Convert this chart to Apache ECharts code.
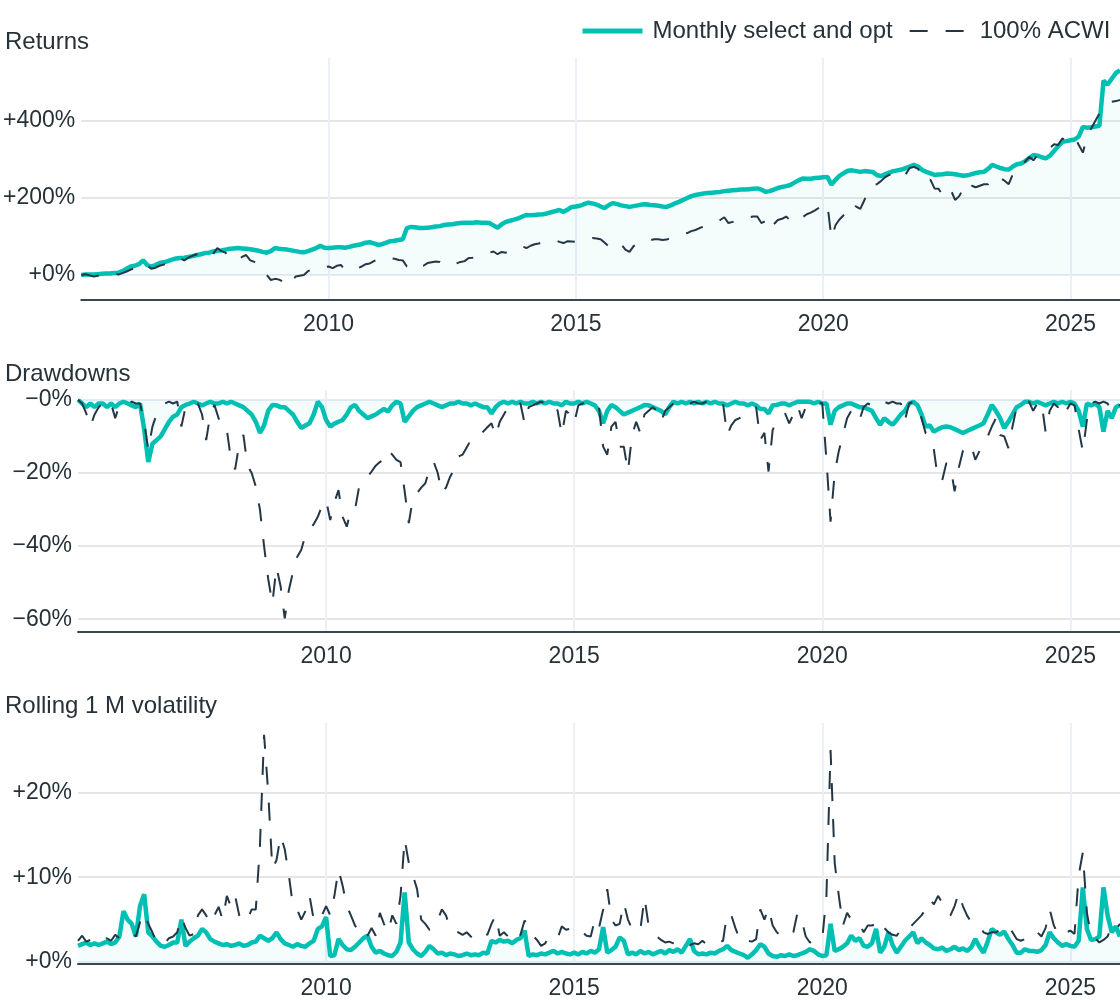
<!DOCTYPE html>
<html><head><meta charset="utf-8">
<script src="https://cdn.jsdelivr.net/npm/echarts@6/dist/echarts.min.js"></script>
<style>html,body{margin:0;padding:0;background:#fff}#c{width:1120px;height:1000px}</style>
</head><body><div id="c"></div><script>
// ---------- data (monthly, first point = Jan 2005) ----------
const startYear = 2005;
const seriesNames = ['Monthly select and opt', '100% ACWI'];
const panelTitles = ['Returns', 'Drawdowns', 'Rolling 1 M volatility'];
const yearTicks = [2010, 2015, 2020, 2025];
const returnTicks = [0, 200, 400];
const drawdownTicks = [-60, -40, -20, 0];
const volTicks = [0, 10, 20];

// cumulative returns, %
const stratReturn = [
  0, 1, 1, 1, 2, 3, 4, 4, 5, 6, 10, 16,
  22, 24, 28, 38, 26, 22, 26, 31, 33, 36, 40, 43,
  44, 45, 47, 49, 52, 54, 57, 58, 61, 63, 64, 66,
  68, 69, 70, 69, 68, 67, 65, 63, 60, 58, 62, 70,
  68, 67, 66, 64, 62, 60, 59, 62, 66, 70, 76, 71,
  70, 71, 72, 72, 71, 73, 76, 78, 80, 84, 85, 82,
  78, 80, 84, 88, 89, 91, 93, 122, 125, 124, 122, 122,
  123, 124, 126, 127, 130, 131, 132, 134, 135, 136, 136, 136,
  137, 136, 136, 135, 129, 123, 132, 138, 141, 144, 147, 152,
  156, 155, 156, 157, 158, 160, 163, 166, 169, 164, 170, 177,
  178, 180, 184, 188, 186, 183, 178, 174, 182, 187, 184, 181,
  179, 177, 179, 181, 183, 184, 182, 181, 180, 178, 177, 181,
  186, 190, 195, 200, 205, 208, 210, 212, 213, 214, 215, 216,
  218, 219, 220, 221, 222, 222, 223, 224, 225, 222, 216, 218,
  222, 226, 229, 231, 234, 240, 246, 251, 250, 250, 252, 253,
  254, 255, 235, 248, 258, 265, 271, 272, 270, 268, 270, 269,
  268, 260, 257, 262, 266, 270, 272, 274, 278, 282, 286, 282,
  273, 268, 264, 260, 261, 262, 264, 263, 262, 260, 258, 259,
  262, 265, 267, 268, 276, 286, 282, 278, 275, 274, 282, 288,
  290, 296, 304, 312, 310, 306, 303, 310, 322, 335, 346, 348,
  350, 352, 360, 385, 383, 384, 386, 388, 505, 495, 510, 525,
  532
];
const acwiReturn = [
  0, 2, -1, -4, -2, 0, 3, 3, 5, 1, 5, 9,
  14, 18, 24, 31, 25, 16, 19, 24, 27, 32, 36, 40,
  44, 38, 45, 50, 54, 55, 50, 45, 55, 70, 62, 58,
  44, 40, 38, 47, 52, 38, 34, 30, 18, 0, -13, -10,
  -12, -18, -29, -18, -4, -2, 0, 10, 15, 17, 22, 20,
  22, 18, 24, 26, 13, 12, 15, 17, 22, 28, 30, 36,
  41, 43, 40, 44, 42, 39, 38, 22, 17, 14, 24, 24,
  31, 33, 35, 34, 26, 24, 28, 30, 34, 36, 44, 45,
  48, 51, 54, 58, 61, 54, 60, 58, 64, 70, 72, 74,
  70, 76, 80, 82, 85, 88, 89, 91, 86, 83, 88, 87,
  86, 91, 93, 95, 96, 95, 93, 84, 74, 85, 84, 80,
  66, 60, 75, 82, 87, 85, 90, 93, 93, 91, 92, 96,
  99, 103, 106, 109, 114, 117, 122, 126, 130, 135, 139, 143,
  150, 135, 138, 140, 142, 145, 150, 152, 152, 135, 140, 117,
  132, 143, 146, 152, 142, 152, 156, 150, 158, 162, 168, 175,
  182, 186, 95, 130, 145, 156, 166, 186, 178, 172, 195, 218,
  234, 236, 244, 254, 260, 264, 268, 273, 262, 278, 281, 276,
  260, 242, 248, 225, 224, 206, 222, 220, 195, 205, 225, 215,
  232, 228, 232, 236, 236, 250, 258, 252, 245, 236, 262, 278,
  282, 295, 307, 298, 312, 320, 329, 330, 340, 338, 355, 348,
  355, 358, 338, 318, 360, 381, 400, 420, 432, 446, 450, 452,
  455
];

// drawdowns, %
const stratDrawdown = [
  0, -1, -2, -1, -2, -1, -1, -2, -1, -2, -1, -0.5,
  -1, -1.5, -2, -1, -8, -17, -12, -11, -10, -8, -6, -4.6,
  -4, -2, -1.4, -1, -0.5, -1, -1.5, -1, -0.5, -1, -1, -0.5,
  -1, -0.5, -1, -1.5, -2, -3, -4, -6, -9, -7, -3, -1.4,
  -1.5, -2, -2, -3, -4, -6, -7.7, -7, -6.4, -4, -0.5, -2,
  -5.5, -7.3, -6.5, -6, -5.5, -4, -2, -1.4, -3, -4, -5, -4.5,
  -4, -3.2, -2.5, -3.2, -1.5, -0.5, -1, -6, -4.5, -3, -2, -1.5,
  -1, -0.5, -1, -1.5, -2, -1.5, -1, -1, -0.5, -1, -1, -1.5,
  -1, -1.5, -2, -2, -3.7, -2, -1, -0.5, -1, -0.5, -1, -0.5,
  -1, -1, -0.5, -1, -0.5, -1, -0.5, -1, -1, -1.5, -0.5, -1,
  -1, -0.5, -1, -0.5, -1, -1.5, -3, -6.4, -3, -1.4, -2, -3,
  -4, -3.5, -3, -2.5, -2, -1.4, -1.5, -2, -2.5, -3, -4, -2,
  -0.5, -1, -0.5, -1, -0.5, -1, -0.5, -1, -0.5, -1, -0.5, -1,
  -1, -1.5, -1, -0.5, -1, -1, -1.5, -1, -1.5, -2.5, -2.5, -3.7,
  -1.5, -1.4, -1, -1, -1.5, -1, -0.5, -0.5, -0.5, -0.5, -1, -0.5,
  -1, -1, -6.8, -3, -2, -1.5, -1, -1, -1.5, -2, -2, -2.5,
  -3, -5, -6.8, -5, -6, -6.8, -5.5, -4, -3, -1, -0.5, -1.4,
  -4, -7.3, -7, -8.7, -8, -7.5, -7.3, -7.5, -8, -8.5, -9.1, -8.5,
  -8, -7.5, -7, -6.4, -4, -1.4, -3, -5, -7.7, -6, -4, -2,
  -1.4, -0.5, -0.5, -1, -0.5, -1, -1.5, -1, -0.5, -1, -0.5, -1,
  -0.5, -1, -3, -7.3, -1, -1.5, -1, -2, -8.7, -3, -5, -2,
  -1.5
];
const acwiDrawdown = [
  0, -1, -3.7, -7.3, -4, -2, -1, -2, -1, -5, -1.5, -1,
  -1, -0.5, -1, -1, -6, -13.7, -7.3, -4, -2.5, -1, -0.5, -1,
  -0.5, -7.3, -2, -1, -0.5, -1, -4, -11, -4, -1.4, -5, -8.2,
  -8.2, -16.4, -19, -12, -9.6, -18, -20, -23.7, -30, -40, -49, -55.7,
  -45.7, -51, -59.8, -52, -47, -43, -41, -37, -35.6, -34, -32, -29,
  -27.4, -32.9, -28, -24.7, -32, -34.7, -30, -30, -23.7, -22, -21, -19.6,
  -18, -17, -16.4, -13.7, -15, -16.4, -17, -25, -33.7, -27, -25.5, -24,
  -22.8, -19, -16.9, -20, -25.5, -24, -21, -19, -15.5, -15, -13, -11,
  -11, -9.5, -8.7, -7.5, -6.4, -10, -6, -4, -2, -1, -0.5, -1,
  -6.4, -2, -1.5, -1, -0.5, -1, -1.5, -1, -3, -9.6, -3, -4,
  -6.4, -1.5, -1, -0.5, -1, -2, -2, -12.8, -15, -7.3, -6, -12.8,
  -12.8, -19.6, -9.6, -6, -9.1, -4, -3, -2, -3, -6, -3, -2,
  -1, -0.5, -1, -0.5, -1, -0.5, -1, -1, -0.5, -0.5, -1, -0.5,
  -1, -9.6, -7, -5.5, -5, -4, -3.7, -3, -2, -11, -9, -19.6,
  -8.2, -6, -5, -3.7, -6.4, -4, -1.5, -5, -2, -1, -1, -0.5,
  -1, -16.4, -33.3, -20, -14, -9.6, -5, -3, -5.5, -5.5, -2, -1,
  -1.5, -2, -1, -0.5, -1, -0.5, -1, -1, -5.5, -1, -0.5, -1.4,
  -5, -9.1, -10, -13.7, -22, -22, -17.3, -18, -25, -18.6, -14, -12.3,
  -12.3, -16.4, -14, -12, -10, -7.3, -5, -9.6, -10, -13.2, -7.3, -2,
  -1, -0.5, -0.5, -3, -1, -0.5, -8.7, -3, -1, -2, -0.5, -3,
  -1, -1.5, -8, -14, -5.5, -1, -0.5, -1, -0.5, -1, -3, -1,
  -1.5
];

// rolling 1 month volatility, %
const stratVol = [
  1.9, 2.1, 2.3, 2.0, 2.2, 2.0, 2.2, 2.4, 2.1, 2.3, 3.0, 6.0,
  5.0, 4.5, 3.0, 6.6, 8.0, 3.5, 3.0, 2.4, 1.9, 1.8, 2.0, 2.3,
  2.3, 5.0, 1.9, 2.4, 2.8, 3.1, 3.9, 3.5, 2.7, 2.4, 2.2, 2.0,
  2.1, 1.9, 2.0, 2.2, 1.9, 2.0, 2.3, 2.4, 3.1, 2.8, 2.5, 2.8,
  3.5, 2.7, 2.2, 2.0, 1.8, 2.1, 1.9, 1.8, 2.2, 2.5, 3.9, 4.2,
  5.3, 0.7, 0.8, 2.7, 2.0, 1.5, 1.4, 1.8, 2.3, 2.8, 3.1, 1.8,
  1.1, 1.3, 1.0, 0.8, 0.7, 1.2, 2.3, 8.2, 2.3, 1.5, 1.0, 0.7,
  1.2, 1.9, 1.5, 1.0, 1.1, 0.8, 1.0, 0.9, 0.7, 0.8, 1.0, 0.8,
  0.9, 0.8, 1.1, 1.0, 2.5, 2.3, 2.6, 2.4, 2.5, 2.2, 2.6, 2.8,
  3.7, 0.7, 0.9, 0.8, 1.0, 0.9, 1.1, 1.3, 1.0, 1.2, 1.0, 0.9,
  1.1, 0.9, 1.2, 1.0, 1.3, 1.1, 1.5, 4.1, 1.1, 1.4, 1.8, 2.9,
  2.5, 0.9, 1.1, 0.9, 1.3, 1.0, 1.2, 0.9, 1.1, 1.3, 1.0, 1.4,
  1.2, 1.5, 1.1, 1.9, 2.7, 1.3, 0.9, 1.0, 0.9, 1.1, 1.0, 1.3,
  1.5, 1.9, 1.4, 1.2, 1.0, 0.8, 0.5, 0.9, 1.4, 2.1, 1.8, 1.0,
  0.7, 0.6, 0.8, 0.7, 0.9, 0.7, 0.8, 1.0, 1.2, 1.5, 1.3, 0.9,
  0.7, 0.8, 4.5, 1.3, 1.5, 1.8, 2.2, 3.1, 2.5, 2.8, 1.9, 1.8,
  2.2, 3.9, 1.1, 1.8, 3.5, 2.0, 1.1, 1.8, 2.5, 3.0, 3.5, 2.2,
  2.8, 2.3, 2.0, 1.6, 1.5, 1.7, 1.3, 1.5, 1.8, 1.4, 1.6, 1.3,
  1.7, 2.7, 1.8, 1.1, 2.4, 3.9, 3.5, 3.2, 3.6, 2.7, 2.0, 1.1,
  1.1, 1.5, 1.3, 1.3, 1.2, 1.4, 2.0, 3.5, 2.8, 2.3, 1.9, 2.1,
  1.9, 1.8, 2.5, 8.8, 3.9, 2.6, 2.7, 3.0, 8.8, 5.5, 3.5, 4.2,
  3.0
];
const acwiVol = [
  2.5, 3.1, 2.4, 2.6, 2.3, 2.2, 2.6, 2.8, 2.5, 3.2, 2.8, 3.0,
  3.2, 3.5, 3.0, 4.7, 5.8, 4.5, 3.5, 2.3, 2.5, 2.2, 2.8, 3.0,
  3.5, 5.3, 4.0, 3.1, 3.3, 5.5, 6.2, 5.5, 4.5, 5.5, 6.5, 5.0,
  7.8, 6.5, 7.8, 5.5, 4.7, 5.0, 6.2, 6.2, 13.7, 26.8, 20.0, 11.0,
  12.0, 14.9, 13.3, 10.2, 6.6, 6.2, 5.0, 6.0, 7.8, 5.0, 4.7, 5.5,
  6.6, 5.5, 7.8, 10.9, 9.0, 6.6, 5.5, 4.3, 3.5, 3.8, 3.1, 4.0,
  3.1, 5.8, 4.5, 3.5, 5.5, 4.5, 7.8, 14.5, 11.7, 10.2, 8.6, 5.0,
  4.5, 3.8, 4.0, 5.0, 6.2, 5.5, 3.9, 3.5, 3.5, 3.2, 3.5, 3.0,
  2.7, 3.0, 3.5, 3.2, 4.5, 5.5, 3.1, 3.5, 3.0, 3.5, 2.8, 3.2,
  4.9, 4.0, 3.1, 2.6, 1.9, 2.2, 3.1, 3.0, 2.8, 4.2, 3.8, 3.9,
  3.6, 3.9, 3.5, 3.1, 3.0, 5.0, 4.0, 6.2, 8.6, 5.0, 4.3, 4.5,
  7.0, 5.0, 3.9, 4.2, 3.8, 7.6, 4.3, 3.5, 3.0, 2.6, 2.3, 2.4,
  2.2, 2.0, 2.3, 2.4, 2.0, 2.2, 2.1, 2.5, 2.1, 1.9, 2.2, 2.3,
  2.5, 5.8, 5.5, 4.0, 2.7, 3.0, 2.5, 2.4, 2.7, 6.2, 5.0, 6.4,
  4.3, 3.5, 3.1, 2.8, 3.1, 3.5, 5.8, 5.0, 3.0, 2.3, 2.5, 2.7,
  2.7, 7.8, 25.0, 11.7, 7.8, 4.3, 5.8, 5.0, 5.0, 4.5, 3.5, 4.3,
  4.3, 4.5, 5.0, 4.0, 3.5, 3.2, 3.1, 3.8, 4.3, 4.0, 4.5, 5.0,
  5.5, 6.2, 7.4, 6.8, 7.8, 7.0, 5.8, 5.5, 6.6, 8.2, 6.6, 5.5,
  4.7, 4.5, 4.3, 3.5, 3.3, 3.5, 3.5, 3.8, 4.3, 4.3, 3.5, 2.7,
  2.5, 2.7, 2.6, 2.7, 3.5, 3.0, 4.0, 6.2, 4.3, 3.3, 3.0, 3.5,
  3.7, 3.3, 10.2, 12.9, 5.8, 3.1, 2.8, 2.3, 2.6, 3.0, 4.3, 3.8,
  4.5
];

// ---------- chart ----------
// x positions as decimal years (month i -> startYear + i/12)
const months = stratReturn.map((_, i) => startYear + i / 12);
const pairs = arr => arr.map((v, i) => [months[i], v]);

const FONT = '"Liberation Sans", Arial, Helvetica, sans-serif';
const TXT = '#263238';
const TEAL = '#00BFB3';
const DARK = '#243746';
const GRID_H = '#E6E6E6';
const GRID_V = '#EBF0F8';
const ZERO = '#E4ECF6';

const grids = [
  {left: 78, right: 0, top: 58, height: 242},
  {left: 78, right: 0, top: 390, height: 242},
  {left: 78, right: 0, top: 723, height: 242}
];

function xAxis(i) {
  return {
    gridIndex: i, type: 'value', min: 2005, max: 2026,
    axisLine: {show: true, onZero: false, lineStyle: {color: '#37474F', width: 2}},
    axisTick: {show: false, customValues: yearTicks},
    axisLabel: {customValues: yearTicks, formatter: v => String(Math.round(v)),
      fontSize: 23, color: TXT, fontFamily: FONT, margin: 13},
    splitLine: {show: true, lineStyle: {color: GRID_V, width: 2}}
  };
}
function yAxis(i, min, max, ticks, fmt, colors) {
  return {
    gridIndex: i, type: 'value', min: min, max: max,
    axisLine: {show: false},
    axisTick: {show: false, customValues: ticks},
    axisLabel: {customValues: ticks, formatter: fmt, fontSize: 23, color: TXT, fontFamily: FONT, margin: 6},
    splitLine: {show: true, lineStyle: {color: colors, width: 2}}
  };
}
function teal(i, data) {
  return {name: seriesNames[0], type: 'line', xAxisIndex: i, yAxisIndex: i, data: pairs(data),
    symbol: 'none', lineStyle: {color: TEAL, width: 4.5}, itemStyle: {color: TEAL},
    areaStyle: {color: 'rgba(0,191,179,0.06)'}, z: 2};
}
function acwi(i, data) {
  return {name: seriesNames[1], type: 'line', xAxisIndex: i, yAxisIndex: i, data: pairs(data),
    symbol: 'none', lineStyle: {color: DARK, width: 2, type: [18, 18]}, itemStyle: {color: DARK}, z: 3};
}
const titleTops = [30, 362, 694];

const option = {
  animation: false,
  backgroundColor: '#fff',
  textStyle: {fontFamily: FONT},
  title: panelTitles.map((t, i) => ({text: t, left: 5, top: titleTops[i], padding: 0,
    textStyle: {fontSize: 24, fontWeight: 'normal', color: TXT, fontFamily: FONT}})),
  legend: {top: 19, left: 580, itemWidth: 60, itemHeight: 14, itemGap: 16, padding: 0,
    itemStyle: {opacity: 0},
    data: [
      {name: seriesNames[0], lineStyle: {width: 5, color: TEAL}},
      {name: seriesNames[1], lineStyle: {width: 2, color: DARK, type: [18, 18]}}
    ],
    textStyle: {fontSize: 24, color: TXT, fontFamily: FONT, padding: [0, 0, 0, 5]}},
  grid: grids,
  xAxis: [xAxis(0), xAxis(1), xAxis(2)],
  yAxis: [
    yAxis(0, -65, 564, returnTicks, v => '+' + v + '%', [ZERO, GRID_H, GRID_H]),
    yAxis(1, -63.5, 2.7, drawdownTicks, v => '\u2212' + Math.abs(v) + '%', [GRID_H, GRID_H, GRID_H, ZERO]),
    yAxis(2, -0.24, 28.2, volTicks, v => '+' + v + '%', [ZERO, GRID_H, GRID_H])
  ],
  series: [
    teal(0, stratReturn), acwi(0, acwiReturn),
    teal(1, stratDrawdown), acwi(1, acwiDrawdown),
    teal(2, stratVol), acwi(2, acwiVol)
  ]
};
const chart = echarts.init(document.getElementById('c'), null, {renderer: 'canvas'});
chart.setOption(option);
</script></body></html>
